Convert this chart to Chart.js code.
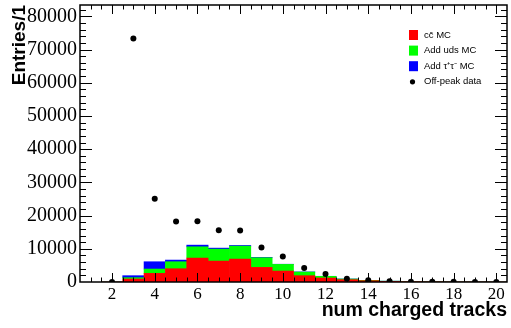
<!DOCTYPE html>
<html>
<head>
<meta charset="utf-8">
<script src="https://cdn.jsdelivr.net/npm/chart.js@4.4.1/dist/chart.umd.min.js"></script>
<style>
  html, body { margin: 0; padding: 0; background: #fff; }
  #wrap { width: 511px; height: 328px; }
</style>
</head>
<body>
<div id="wrap"><canvas id="tracks" width="511" height="328"></canvas></div>
<script>
// one bin per number of charged tracks
const bins = [2, 3, 4, 5, 6, 7, 8, 9, 10, 11, 12, 13, 14, 15, 16, 17, 18, 19, 20];
// stacked MC contributions (entries per bin)
const ccMC  = [0, 900, 2600, 4000, 7200, 6300, 6900, 4400, 3300, 1900, 1200, 700, 400, 200, 100, 60, 30, 20, 10];
const udsMC = [0, 400, 1300, 2100, 3400, 3600, 3900, 2900, 2000, 1100, 500, 200, 100, 50, 30, 20, 10, 5, 5];
const tauMC = [0, 600, 2200, 500, 500, 300, 200, 100, 50, 30, 20, 10, 5, 0, 0, 0, 0, 0, 0];
// off-peak data points
const offPeak = [0, 73300, 25100, 18200, 18300, 15600, 15500, 10400, 7700, 4200, 2400, 1000, 500, 250, 100, 60, 40, 20, 10];

const xTickValues = [2, 4, 6, 8, 10, 12, 14, 16, 18, 20];
const yTickValues = [0, 10000, 20000, 30000, 40000, 50000, 60000, 70000, 80000];

const serif = "'Liberation Serif', 'Times New Roman', serif";
const sans = "'Liberation Sans', Arial, sans-serif";

// ROOT-like frame with inward ticks on every side
const rootFrame = {
    id: 'rootFrame',
    afterDatasetsDraw(chart) {
        const { ctx, chartArea: a, scales: { x, y } } = chart;
        ctx.save();
        ctx.strokeStyle = '#000';
        ctx.lineWidth = 1;
        ctx.beginPath();
        for (let v = 1; v < x.max; v += 0.5) {
            const px = Math.round(x.getPixelForValue(v)) + 0.5;
            const len = xTickValues.includes(v) ? 9 : 4.5;
            ctx.moveTo(px, a.bottom); ctx.lineTo(px, a.bottom - len);
            ctx.moveTo(px, a.top); ctx.lineTo(px, a.top + len);
        }
        for (let v = 2000; v < y.max; v += 2000) {
            const py = Math.round(y.getPixelForValue(v)) + 0.5;
            const len = v % 10000 === 0 ? 12 : 6;
            ctx.moveTo(a.left, py); ctx.lineTo(a.left + len, py);
            ctx.moveTo(a.right, py); ctx.lineTo(a.right - len, py);
        }
        ctx.stroke();
        ctx.lineWidth = 1.5;
        ctx.strokeRect(a.left, a.top, a.right - a.left, a.bottom - a.top);
        ctx.restore();
    }
};

// legend box in the upper right corner
const rootLegend = {
    id: 'rootLegend',
    afterDraw(chart) {
        const { ctx } = chart;
        ctx.save();
        ctx.font = '9.5px ' + sans;
        ctx.textBaseline = 'middle';
        chart.data.datasets.forEach((ds, i) => {
            const cy = 35 + i * 15.6;
            if (ds.type === 'scatter') {
                ctx.beginPath();
                ctx.arc(412.5, cy, 2.6, 0, Math.PI * 2);
                ctx.fillStyle = '#000';
                ctx.fill();
            } else {
                ctx.fillStyle = ds.backgroundColor;
                ctx.fillRect(409, cy - 5, 9, 10);
            }
            ctx.fillStyle = '#000';
            ctx.fillText(ds.label, 424, cy);
        });
        ctx.restore();
    }
};

new Chart(document.getElementById('tracks'), {
    type: 'bar',
    data: {
        labels: bins,
        datasets: [
            { label: 'cc\u0304 MC', data: ccMC, backgroundColor: '#ff0000', stack: 'mc', order: 2 },
            { label: 'Add uds MC', data: udsMC, backgroundColor: '#00ff00', stack: 'mc', order: 2 },
            { label: 'Add \u03c4\u207a\u03c4\u207b MC', data: tauMC, backgroundColor: '#0000ff', stack: 'mc', order: 2 },
            {
                type: 'scatter', label: 'Off-peak data', data: offPeak, stack: 'points', order: 1,
                backgroundColor: '#000', borderColor: '#000', pointRadius: 3, pointBorderWidth: 0
            }
        ]
    },
    options: {
        responsive: false,
        animation: false,
        barPercentage: 1,
        categoryPercentage: 1,
        borderWidth: 0,
        layout: { padding: { top: 5, right: 1, left: 0, bottom: 0 } },
        plugins: {
            legend: { display: false },
            tooltip: { enabled: false }
        },
        scales: {
            x: {
                type: 'linear',
                min: 0.5,
                max: 20.5,
                offset: false,
                stacked: true,
                grid: { display: false, drawTicks: false },
                border: { display: false },
                afterBuildTicks: (scale) => { scale.ticks = xTickValues.map(v => ({ value: v })); },
                afterFit: (scale) => {
                    scale.height = 46;
                    scale.paddingLeft = 0;
                    scale.paddingRight = 0;
                },
                ticks: {
                    color: '#000',
                    padding: 2,
                    maxRotation: 0,
                    callback: (v) => String(v),
                    font: { family: serif, size: 17 }
                },
                title: {
                    display: true,
                    text: 'num charged tracks',
                    align: 'end',
                    color: '#000',
                    padding: { top: 0, bottom: 6 },
                    font: { family: sans, size: 19.5, weight: 'bold' }
                }
            },
            y: {
                min: 0,
                max: 83400,
                stacked: true,
                grid: { display: false, drawTicks: false },
                border: { display: false },
                afterBuildTicks: (scale) => { scale.ticks = yTickValues.map(v => ({ value: v })); },
                afterFit: (scale) => {
                    scale.width = 80;
                    scale.paddingTop = 0;
                    scale.paddingBottom = 0;
                },
                ticks: {
                    color: '#000',
                    padding: 3,
                    callback: (v) => String(v),
                    font: { family: serif, size: 20 }
                },
                title: {
                    display: true,
                    text: 'Entries/1',
                    align: 'end',
                    color: '#000',
                    padding: { top: 8, bottom: 0 },
                    font: { family: sans, size: 19, weight: 'bold' }
                }
            }
        }
    },
    plugins: [rootFrame, rootLegend]
});
</script>
</body>
</html>
